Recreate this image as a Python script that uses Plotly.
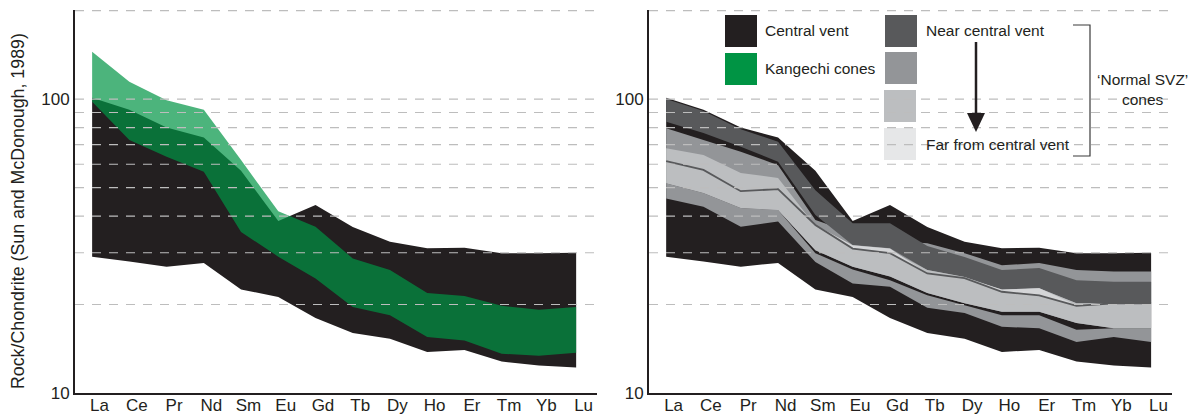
import plotly.graph_objects as go

W, H = 1197, 417

elements = ["La", "Ce", "Pr", "Nd", "Sm", "Eu", "Gd", "Tb", "Dy", "Ho", "Er", "Tm", "Yb", "Lu"]

# Central vent envelope (rock / chondrite)
central_hi = [101, 92, 80, 74, 57, 38.5, 43.6, 36.7, 32.7, 31.1, 31.2, 29.9, 29.9, 30.0]
central_lo = [29.1, 28.0, 26.9, 27.7, 22.5, 21.2, 18.0, 16.0, 15.3, 13.8, 14.0, 12.8, 12.4, 12.2]

# Kangechi cones envelope
kangechi_hi = [145, 114.5, 99, 92, 62, 41.5, 36.8, 28.7, 26.2, 21.9, 21.4, 19.8, 19.2, 19.6]
kangechi_lo = [98, 72.5, 63.6, 56.6, 35.3, 29.1, 24.5, 19.6, 18.4, 15.5, 15.1, 13.6, 13.4, 13.7]

# 'Normal SVZ' cones, from near to far from the central vent
near_hi = [100, 91, 79, 71.6, 49.0, 37.8, 37.8, 31.6, 29.0, 26.2, 26.6, 24.2, 23.9, 23.9]
near_lo = [83.7, 76.6, 68.8, 61.2, 40.3, 31.9, 31.1, 26.2, 24.8, 22.5, 22.7, 20.2, 20.2, 20.2]
mid_hi = [79.5, 72.5, 66.2, 59.6, 38.8, 35.0, 33.0, 32.3, 29.9, 27.2, 27.7, 26.2, 25.9, 25.9]
mid_split = [51.7, 47.9, 42.6, 41.9, 29.9, 26.3, 24.2, 21.5, 19.9, 18.4, 18.4, 16.4, 16.6, 16.6]
mid_lo = [45.9, 43.0, 36.8, 38.3, 27.9, 23.6, 23.0, 19.5, 18.7, 16.8, 16.6, 14.9, 15.5, 14.9]
light_hi = [68.0, 64.5, 56.0, 53.9, 37.0, 31.3, 30.6, 26.2, 24.8, 22.4, 22.7, 20.2, 20.2, 20.2]
light_lo = [51.7, 47.9, 42.6, 41.9, 30.6, 26.9, 24.9, 21.9, 20.2, 18.9, 18.9, 17.3, 16.6, 16.6]
far_hi = [61.5, 57.4, 48.6, 49.4, 37.3, 31.8, 31.0, 25.5, 24.6, 22.5, 22.7, 19.9, 20.2, 20.2]
far_lo = [61.5, 57.4, 48.6, 49.4, 37.3, 31.0, 29.9, 25.5, 24.6, 22.1, 21.5, 19.8, 20.2, 20.2]

grid_values = [20, 30, 40, 50, 60, 70, 80, 90, 100, 200]

BLACK = "#231F20"
GREEN = "#009444"
DARK_GREY = "#58595B"
MID_GREY = "#939598"
LIGHT_GREY = "#BCBEC0"
PALE_GREY = "#E6E7E8"
GRID = "#BDBDBD"
FONT = "Liberation Sans, Arial, Helvetica, sans-serif"

X_RANGE = [-0.46, 13.56]
xs = list(range(len(elements)))


def band(hi, lo, color, xa, ya, opacity=1.0):
    return go.Scatter(
        x=xs + xs[::-1], y=hi + lo[::-1], xaxis=xa, yaxis=ya,
        mode="lines", fill="toself", fillcolor=color, opacity=opacity,
        line=dict(width=0), hoverinfo="skip", showlegend=False,
    )


def grid(xa, ya):
    gx, gy = [], []
    for v in grid_values:
        gx += [X_RANGE[0], X_RANGE[1], None]
        gy += [v, v, None]
    return go.Scatter(x=gx, y=gy, xaxis=xa, yaxis=ya, mode="lines",
                      line=dict(color=GRID, width=1.2, dash="9px,8px"),
                      hoverinfo="skip", showlegend=False)


fig = go.Figure()

# left panel
fig.add_trace(band(central_hi, central_lo, BLACK, "x", "y"))
fig.add_trace(band(kangechi_hi, kangechi_lo, GREEN, "x", "y", opacity=0.7))
fig.add_trace(grid("x", "y"))

# right panel
fig.add_trace(band(central_hi, central_lo, BLACK, "x2", "y2"))
fig.add_trace(band(mid_hi, light_lo, MID_GREY, "x2", "y2"))
fig.add_trace(band(mid_split, mid_lo, MID_GREY, "x2", "y2"))
fig.add_trace(band(near_hi, near_lo, DARK_GREY, "x2", "y2"))
fig.add_trace(band(light_hi, light_lo, LIGHT_GREY, "x2", "y2"))
fig.add_trace(band(far_hi, far_lo, "#D4D5D7", "x2", "y2"))
fig.add_trace(go.Scatter(x=xs, y=far_lo, xaxis="x2", yaxis="y2", mode="lines",
                         line=dict(color=DARK_GREY, width=1.8), hoverinfo="skip",
                         showlegend=False))
fig.add_trace(grid("x2", "y2"))

xaxis_common = dict(
    range=X_RANGE, showline=True, linecolor=BLACK, linewidth=2, ticks="",
    tickvals=[i + 0.2 for i in xs], ticktext=elements, showgrid=False,
    zeroline=False, tickfont=dict(family=FONT, size=17, color=BLACK),
    fixedrange=True, automargin=False, ticklabelstandoff=-4,
)
yaxis_common = dict(
    type="log", range=[1, 2.303], showline=True, linecolor=BLACK, linewidth=2,
    ticks="", tickvals=[10, 100], ticktext=["10", "100"], showgrid=False,
    zeroline=False, tickfont=dict(family=FONT, size=17, color=BLACK),
    domain=[24 / H, 407 / H], fixedrange=True, automargin=False,
)


def px(x):
    return x / W


def py(y):
    return 1 - y / H


shapes = []
# legend swatches
swatches = [
    (725, 15, BLACK), (725, 53, GREEN),
    (885, 15, DARK_GREY), (885, 52, MID_GREY), (884, 90, LIGHT_GREY), (884, 128, PALE_GREY),
]
for x0, y0, c in swatches:
    shapes.append(dict(type="rect", xref="paper", yref="paper",
                       x0=px(x0), x1=px(x0 + 32), y0=py(y0 + 32), y1=py(y0),
                       fillcolor=c, line=dict(width=0), layer="below"))
# arrow from near to far
shapes.append(dict(type="line", xref="paper", yref="paper",
                   x0=px(976), x1=px(976), y0=py(42), y1=py(122),
                   line=dict(color=BLACK, width=2.5), layer="above"))
shapes.append(dict(type="path", xref="paper", yref="paper",
                   path=f"M {px(967)},{py(113)} L {px(985)},{py(113)} L {px(976)},{py(132)} Z",
                   fillcolor=BLACK, line=dict(width=0), layer="above"))
# bracket
shapes.append(dict(type="path", xref="paper", yref="paper",
                   path=(f"M {px(1073)},{py(25)} L {px(1090)},{py(25)} "
                         f"L {px(1090)},{py(156)} L {px(1073)},{py(156)}"),
                   line=dict(color="#3A3A3A", width=1.2), layer="above"))

ann_font = dict(family=FONT, size=15.5, color=BLACK)
annotations = [
    dict(text="Central vent", x=px(763), y=py(30)),
    dict(text="Kangechi cones", x=px(763), y=py(69)),
    dict(text="Near central vent", x=px(924), y=py(31)),
    dict(text="Far from central vent", x=px(924), y=py(144)),
]
annotations = [dict(a, xref="paper", yref="paper", xanchor="left", yanchor="middle",
                    showarrow=False, font=ann_font) for a in annotations]
annotations += [
    dict(text="\u2018Normal SVZ\u2019<br>cones", x=px(1142), y=py(89), xref="paper",
         yref="paper", xanchor="center", yanchor="middle", showarrow=False,
         font=ann_font, align="center"),
    dict(text="Rock/Chondrite (Sun and McDonough, 1989)", x=px(18), y=py(211),
         xref="paper", yref="paper", xanchor="center", yanchor="middle",
         textangle=-90, showarrow=False, font=dict(family=FONT, size=17.8, color=BLACK)),
]

fig.update_layout(
    width=W, height=H, margin=dict(l=0, r=0, t=0, b=0, autoexpand=False),
    paper_bgcolor="white", plot_bgcolor="rgba(0,0,0,0)",
    showlegend=False,
    xaxis=dict(xaxis_common, domain=[75 / W, 597 / W], anchor="y"),
    yaxis=dict(yaxis_common, anchor="x"),
    xaxis2=dict(xaxis_common, domain=[649 / W, 1172 / W], anchor="y2"),
    yaxis2=dict(yaxis_common, anchor="x2"),
    shapes=shapes, annotations=annotations,
)

fig.write_html("out.html")
